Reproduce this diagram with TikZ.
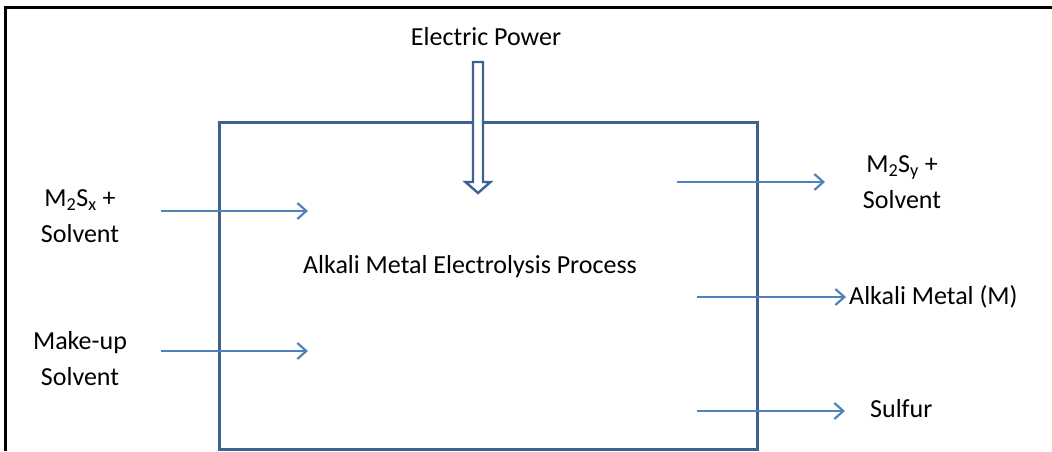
\documentclass[tikz,border=0pt]{standalone}
\usepackage{fontspec}
\setmainfont{Carlito}
\usepackage{tikz}
\usetikzlibrary{arrows.meta,positioning,calc}
\definecolor{boxblue}{HTML}{3F6190}
\definecolor{arrblue}{HTML}{4F81BD}

\begin{document}
\begin{tikzpicture}[x=1pt,y=-1pt,
    every node/.style={font=\fontsize{26}{36}\selectfont,inner sep=0pt},
    procbox/.style={draw=boxblue,line width=3pt,minimum width=538pt,minimum height=327pt},
    arr/.style={-{Straight Barb[length=9pt,width=16pt,line width=2.2pt]},arrblue,line width=2.6pt},
    hollow/.style={draw=boxblue,line width=2.4pt,fill=white,line join=miter},
    txt/.style={align=center}
]
\useasboundingbox (0,0) rectangle (1052,451);
% frame of the page
\draw[line width=2.6pt] (5.5,451) -- (5.5,7.7) -- (1052,7.7);

% the process box
\node[procbox] (proc) at (488,285.5) {};
\node (name) at (470,267) {Alkali Metal Electrolysis Process};

% electric power, hollow arrow
\node (power) at (486,37) {Electric Power};
\coordinate (pw) at (478,62);
\draw[hollow] ($(pw)+(-5,0)$) -- ($(pw)+(5,0)$) -- ($(pw)+(5,120)$) -- ($(pw)+(12.5,120)$)
    -- ($(pw)+(0,131)$) -- ($(pw)+(-12.5,120)$) -- ($(pw)+(-5,120)$) -- cycle;

% inputs
\node[txt] (feed) at (80,216) {M\textsubscript{2}S\textsubscript{x} +\\Solvent};
\node[txt] (makeup) at (80,359) {Make-up\\Solvent};
\coordinate (feedA) at (161,211);
\coordinate (feedB) at (308,211);
\coordinate (makeA) at (161,351);
\coordinate (makeB) at (308,351);
\draw[arr] (feedA) -- (feedB);
\draw[arr] (makeA) -- (makeB);

% outputs
\node[txt] (spent) at (902,182) {M\textsubscript{2}S\textsubscript{y} +\\Solvent};
\node[anchor=west] (metal) at (849,297) {Alkali Metal (M)};
\node[anchor=west] (sulfur) at (870,409) {Sulfur};
\coordinate (spentA) at (677,182);
\coordinate (spentB) at (825,182);
\coordinate (metalA) at (697,297);
\coordinate (sulfA) at (697,411);
\coordinate (sulfB) at (845,411);
\draw[arr] (spentA) -- (spentB);
\draw[arr,shorten >=3pt] (metalA) -- (metal.west);
\draw[arr] (sulfA) -- (sulfB);
\end{tikzpicture}
\end{document}
